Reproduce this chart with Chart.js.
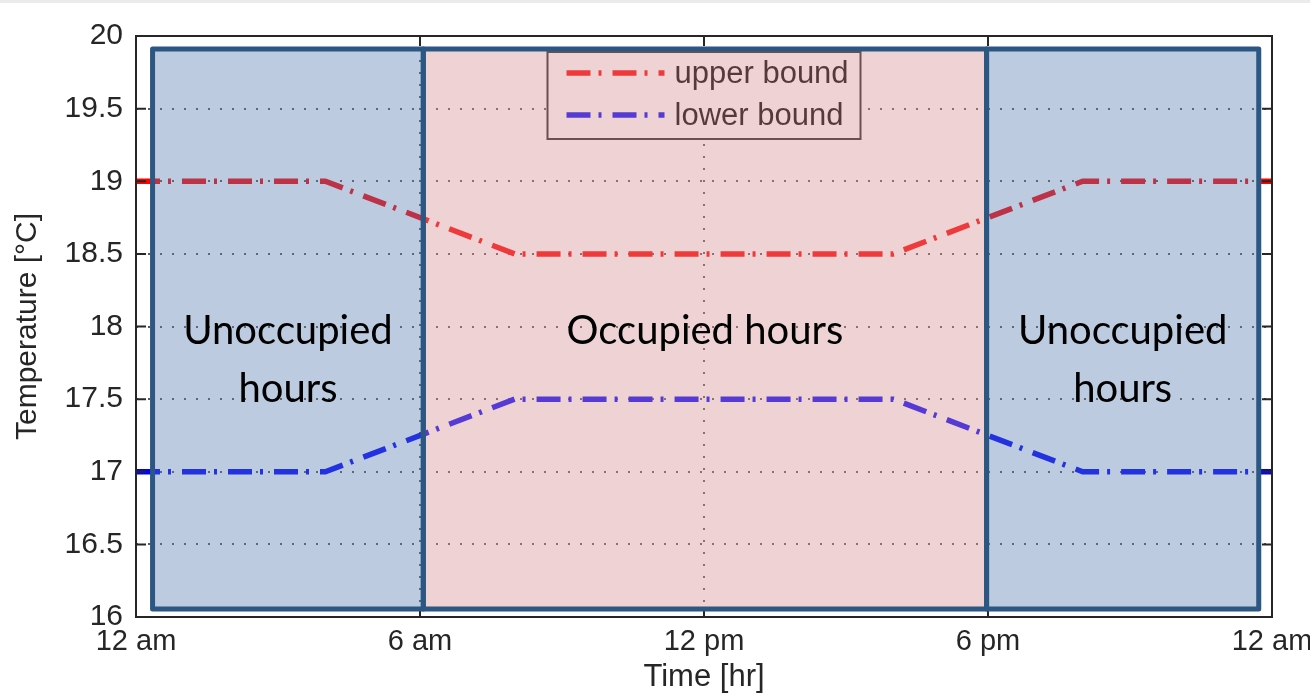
<!DOCTYPE html>
<html>
<head>
<meta charset="utf-8">
<title>Temperature bounds</title>
<script src="https://cdn.jsdelivr.net/npm/chart.js@4.4.1/dist/chart.umd.min.js"></script>
<style>
    html, body { margin: 0; padding: 0; background: #fff; }
    #wrap { position: relative; width: 1310px; height: 696px; }
    #topbar { position: absolute; left: 0; top: 0; width: 1310px; height: 3px; background: #ebebeb; }
</style>
</head>
<body>
<div id="wrap">
    <canvas id="boundsChart"></canvas>
    <div id="topbar"></div>
</div>
<script>
// --- Data ---
const hours = [0, 4, 8, 16, 20, 24];
const upperBound = [19, 19, 18.5, 18.5, 19, 19];
const lowerBound = [17, 17, 17.5, 17.5, 17, 17];
const seriesNames = ['upper bound', 'lower bound'];
const xTickLabels = ['12 am', '6 am', '12 pm', '6 pm', '12 am'];
const yTickLabels = ['16', '16.5', '17', '17.5', '18', '18.5', '19', '19.5', '20'];

// occupancy periods (hours) and their labels
const periodStart = [0.35, 6.07, 17.97];
const periodEnd = [6.07, 17.97, 23.72];
const periodLabels = ['Unoccupied\nhours', 'Occupied hours', 'Unoccupied\nhours'];
const periodTop = 19.91;
const periodBottom = 16.055;
const labelBaseline = 17.88;

const periodFill = ['rgba(87,125,177,0.4)', 'rgba(215,145,147,0.4)', 'rgba(87,125,177,0.4)'];

Chart.defaults.font.family = '"Liberation Sans", Arial, sans-serif';
Chart.defaults.color = '#262626';

function toPoints(values) {
    return hours.map((h, i) => ({ x: h, y: values[i] }));
}

// --- Legend box drawn inside the plot (MATLAB style) ---
function drawLegend(chart) {
    const { ctx, chartArea: a } = chart;
    const w = 313, h = 87;
    const left = (a.left + a.right) / 2 - w / 2;
    const top = a.top + 16;
    ctx.save();
    ctx.fillStyle = '#fff';
    ctx.fillRect(left, top, w, h);
    ctx.strokeStyle = '#262626';
    ctx.lineWidth = 2;
    ctx.strokeRect(left, top, w, h);
    chart.data.datasets.forEach((ds, i) => {
        const rowY = top + 21 + i * 42;
        ctx.strokeStyle = ds.borderColor;
        ctx.lineWidth = ds.borderWidth;
        ctx.setLineDash(ds.borderDash);
        ctx.beginPath();
        ctx.moveTo(left + 19, rowY);
        ctx.lineTo(left + 117, rowY);
        ctx.stroke();
        ctx.setLineDash([]);
        ctx.fillStyle = '#000';
        ctx.font = '31px "Liberation Sans", Arial, sans-serif';
        ctx.textAlign = 'left';
        ctx.textBaseline = 'middle';
        ctx.fillText(ds.label, left + 127, rowY + 1);
    });
    ctx.restore();
}

// --- Axes frame with inward ticks ---
function drawFrame(chart) {
    const { ctx, chartArea: a, scales: { x, y } } = chart;
    ctx.save();
    ctx.strokeStyle = '#262626';
    ctx.lineWidth = 2;
    ctx.strokeRect(a.left, a.top, a.right - a.left, a.bottom - a.top);
    ctx.beginPath();
    y.ticks.forEach(t => {
        const py = y.getPixelForValue(t.value);
        ctx.moveTo(a.left, py); ctx.lineTo(a.left + 10, py);
        ctx.moveTo(a.right, py); ctx.lineTo(a.right - 10, py);
    });
    x.ticks.forEach(t => {
        const px = x.getPixelForValue(t.value);
        ctx.moveTo(px, a.bottom); ctx.lineTo(px, a.bottom - 10);
        ctx.moveTo(px, a.top); ctx.lineTo(px, a.top + 10);
    });
    ctx.stroke();
    ctx.restore();
}

const occupancyPlugin = {
    id: 'occupancy',
    afterDatasetsDraw(chart) {
        const { ctx, scales: { x, y } } = chart;
        drawFrame(chart);
        drawLegend(chart);
        const top = y.getPixelForValue(periodTop);
        const bottom = y.getPixelForValue(periodBottom);
        ctx.save();
        // translucent shading on top of the lines
        periodLabels.forEach((label, i) => {
            const left = x.getPixelForValue(periodStart[i]);
            const right = x.getPixelForValue(periodEnd[i]);
            ctx.fillStyle = periodFill[i];
            ctx.fillRect(left, top, right - left, bottom - top);
        });
        // borders
        ctx.strokeStyle = '#2b5782';
        ctx.lineWidth = 5;
        ctx.lineJoin = 'round';
        periodLabels.forEach((label, i) => {
            const left = x.getPixelForValue(periodStart[i]);
            const right = x.getPixelForValue(periodEnd[i]);
            ctx.strokeRect(left, top, right - left, bottom - top);
        });
        // captions
        ctx.fillStyle = '#000';
        ctx.font = '40px Lato, "Open Sans", sans-serif';
        ctx.textAlign = 'center';
        ctx.textBaseline = 'alphabetic';
        periodLabels.forEach((label, i) => {
            const cx = x.getPixelForValue((periodStart[i] + periodEnd[i]) / 2);
            const baseY = y.getPixelForValue(labelBaseline);
            label.split('\n').forEach((line, k) => {
                ctx.fillText(line, cx, baseY + k * 58);
            });
        });
        ctx.restore();
    }
};

const ctx = document.getElementById('boundsChart').getContext('2d');
new Chart(ctx, {
    type: 'line',
    data: {
        datasets: [{
            label: seriesNames[0],
            data: toPoints(upperBound),
            borderColor: '#ff0000',
            borderWidth: 5.5,
            borderDash: [24, 8, 3, 11],
            borderCapStyle: 'butt',
            pointRadius: 0,
            tension: 0,
            fill: false
        }, {
            label: seriesNames[1],
            data: toPoints(lowerBound),
            borderColor: '#0000ff',
            borderWidth: 5.5,
            borderDash: [24, 8, 3, 11],
            borderCapStyle: 'butt',
            pointRadius: 0,
            tension: 0,
            fill: false
        }]
    },
    options: {
        responsive: true,
        maintainAspectRatio: false,
        animation: false,
        layout: { padding: { top: 36, right: 38, bottom: 0, left: 0 } },
        plugins: {
            legend: { display: false },
            tooltip: { enabled: false }
        },
        scales: {
            x: {
                type: 'linear',
                min: 0,
                max: 24,
                ticks: {
                    stepSize: 6,
                    autoSkip: false,
                    maxRotation: 0,
                    padding: 8,
                    color: '#262626',
                    font: { size: 29 },
                    callback: (value, index) => xTickLabels[index]
                },
                grid: { color: '#5a5a5a', lineWidth: 2, drawTicks: false },
                border: { display: false, dash: [2, 10] },
                title: {
                    display: true,
                    text: 'Time [hr]',
                    color: '#262626',
                    font: { size: 31 },
                    padding: { top: 0, bottom: 0 }
                },
                afterFit(scale) {
                    scale.height = 79;
                    scale.paddingLeft = 0;
                    scale.paddingRight = 0;
                }
            },
            y: {
                min: 16,
                max: 20,
                ticks: {
                    stepSize: 0.5,
                    padding: 13,
                    color: '#262626',
                    font: { size: 30 },
                    callback: (value, index) => yTickLabels[index]
                },
                grid: { color: '#5a5a5a', lineWidth: 2, drawTicks: false },
                border: { display: false, dash: [2, 10] },
                title: {
                    display: true,
                    text: 'Temperature [°C]',
                    color: '#262626',
                    font: { size: 30 },
                    padding: { top: 10, bottom: 0 }
                },
                afterFit(scale) {
                    scale.width = 136;
                    scale.paddingTop = 0;
                    scale.paddingBottom = 0;
                }
            }
        }
    },
    plugins: [occupancyPlugin]
});
</script>
</body>
</html>
